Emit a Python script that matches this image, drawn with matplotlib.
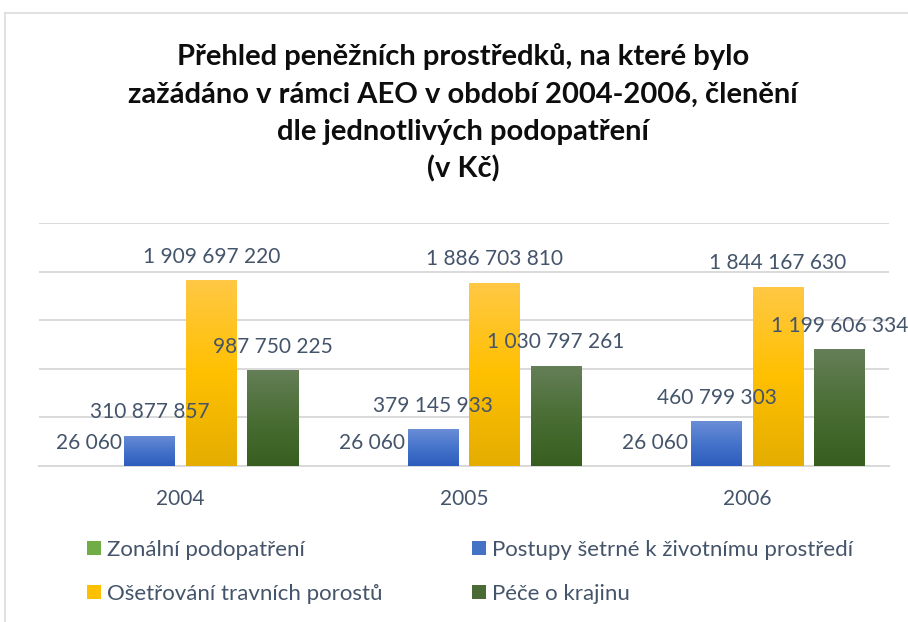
import matplotlib
matplotlib.use("Agg")
import matplotlib.pyplot as plt
import numpy as np
from matplotlib.colors import LinearSegmentedColormap
from matplotlib.patches import Patch
from matplotlib.lines import Line2D

plt.rcParams['font.family'] = ['Lato', 'DejaVu Sans']

# data
years = ['2004', '2005', '2006']
series_names = ['Zonální podopatření',
                'Postupy šetrné k životnímu prostředí',
                'Ošetřování travních porostů',
                'Péče o krajinu']
zonalni = [26060, 26060, 26060]
postupy = [310877857, 379145933, 460799303]
osetrovani = [1909697220, 1886703810, 1844167630]
pece = [987750225, 1030797261, 1199606334]
title_lines = ['Přehled peněžních prostředků, na které bylo',
               'zažádáno v rámci AEO v období 2004-2006, členění',
               'dle jednotlivých podopatření',
               '(v Kč)']

# gradients bottom -> top
gradients = [['#5c9b34', '#70ad47', '#8cc46a'],
             ['#2c5cbd', '#4674cb', '#6a8dd6'],
             ['#e4ad00', '#ffc000', '#ffc845'],
             ['#375e1f', '#4a6e35', '#657f58']]
legend_cols = ['#70ad47', '#4472c4', '#ffc000', '#4a6b35']
label_col = '#44546a'
grid_col = '#d9d9d9'

W, H = 908, 622
fig = plt.figure(figsize=(W / 100, H / 100), dpi=100)
ax = fig.add_axes([39 / W, 1 - 466 / H, 850 / W, 243 / H])

x = np.arange(len(years))
width = 0.18
step = 0.2165
all_series = [zonalni, postupy, osetrovani, pece]


def fmt(v):
    return '{:,}'.format(v).replace(',', ' ')


def grad_fill(ax, bar, cols):
    x0, y0 = bar.get_x(), bar.get_y()
    w, h = bar.get_width(), bar.get_height()
    cmap = LinearSegmentedColormap.from_list('g', cols)
    g = np.linspace(0, 1, 256).reshape(-1, 1)
    im = ax.imshow(g, cmap=cmap, extent=[x0, x0 + w, y0, y0 + h],
                   origin='lower', aspect='auto', zorder=3,
                   interpolation='bilinear')
    im.set_clip_path(bar)


for i, vals in enumerate(all_series):
    pos = x + (i - 1.5) * step
    bars = ax.bar(pos, vals, width, color=gradients[i][1], zorder=2,
                  linewidth=0)
    for b, v in zip(bars, vals):
        grad_fill(ax, b, gradients[i])
        ax.annotate(fmt(v), (b.get_x() + b.get_width() / 2, v),
                    xytext=(0, 12.5), textcoords='offset points',
                    ha='center', va='baseline', fontsize=15,
                    color=label_col, annotation_clip=False, zorder=5)

ax.set_xlim(-0.5, 2.5)
ax.set_ylim(0, 2.5e9)
ax.set_yticks(np.arange(0, 2.51e9, 0.5e9))
ax.set_yticklabels([])
ax.yaxis.grid(True, color=grid_col, lw=1.4)
ax.set_axisbelow(True)
for s in ['top', 'right', 'left']:
    ax.spines[s].set_visible(False)
ax.spines['bottom'].set_color(grid_col)
ax.spines['bottom'].set_linewidth(1.4)
ax.set_xticks(x, years)
ax.tick_params(length=0, pad=28, labelsize=15, labelcolor=label_col)
plt.setp(ax.get_xticklabels(), va='baseline')

# title
for line, yb in zip(title_lines, [65, 102.5, 140, 177]):
    fig.text(463 / W, 1 - yb / H, line, ha='center', va='baseline',
             fontsize=21, fontweight='bold', color='#0d0d0d')

# legend in two columns, row-major order
handles = [Patch(facecolor=c, edgecolor='none') for c in legend_cols]
col_x = [87, 472]
for k, idx in enumerate([(0, 2), (1, 3)]):
    leg = fig.legend([handles[j] for j in idx], [series_names[j] for j in idx],
                     loc='center left', bbox_to_anchor=(col_x[k] / W, 1 - 572 / H),
                     frameon=False, fontsize=16, labelcolor=label_col,
                     handlelength=0.63, handleheight=0.63, handletextpad=0.25,
                     labelspacing=1.08, borderpad=0, borderaxespad=0)

# chart border
fig.add_artist(Line2D([5 / W, 1], [1 - 13 / H, 1 - 13 / H], color='#dcdcdc',
                      lw=1.2, transform=fig.transFigure))
fig.add_artist(Line2D([5 / W, 5 / W], [0, 1 - 13 / H], color='#dcdcdc',
                      lw=1.2, transform=fig.transFigure))

fig.savefig('out.png', dpi=100)
